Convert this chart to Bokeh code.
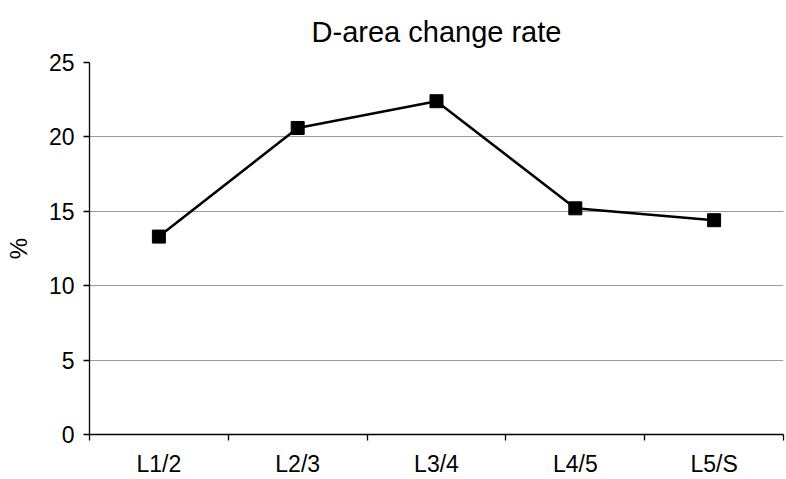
from bokeh.plotting import figure
from bokeh.models import Range1d, FixedTicker, ColumnDataSource
from bokeh.embed import file_html
from bokeh.resources import INLINE

categories = ["L1/2", "L2/3", "L3/4", "L4/5", "L5/S"]
values = [13.3, 20.6, 22.4, 15.2, 14.4]
y_ticks = [0, 5, 10, 15, 20, 25]
title_text = "D-area change rate"
y_label = "%"

xs = [i + 0.5 for i in range(len(categories))]
src = ColumnDataSource(data=dict(x=xs, y=values, cat=categories))

FONT = "Liberation Sans"

p = figure(width=786, height=479, output_backend="svg", toolbar_location=None,
           x_range=Range1d(0, len(categories)), y_range=Range1d(0, 25),
           min_border_left=89, min_border_right=3, min_border_top=62, min_border_bottom=42)

p.title.text = title_text
p.title.text_font = FONT
p.title.text_font_size = "29px"
p.title.text_font_style = "normal"
p.title.text_color = "black"
p.title.align = "center"
p.title.vertical_align = "top"
p.title.standoff = 26

p.outline_line_color = None
p.background_fill_color = "white"
p.border_fill_color = "white"

# x axis
p.xaxis.ticker = FixedTicker(ticks=xs, minor_ticks=list(range(len(categories) + 1)))
p.xaxis.major_label_overrides = {x: c for x, c in zip(xs, categories)}
p.xaxis.major_tick_out = 0
p.xaxis.major_tick_in = 0
p.xaxis.minor_tick_out = 6
p.xaxis.minor_tick_in = 0
p.xaxis.minor_tick_line_color = "black"
p.xaxis.minor_tick_line_width = 1.3
p.xaxis.major_label_standoff = 10
p.xaxis.major_label_text_font = FONT
p.xaxis.major_label_text_font_size = "23px"
p.xaxis.major_label_text_color = "black"
p.xaxis.axis_line_color = "black"
p.xaxis.axis_line_width = 1.3

# y axis
p.yaxis.ticker = FixedTicker(ticks=y_ticks, minor_ticks=[])
p.yaxis.major_tick_out = 6
p.yaxis.major_tick_in = 0
p.yaxis.major_tick_line_width = 1.3
p.yaxis.major_tick_line_color = "black"
p.yaxis.minor_tick_out = 0
p.yaxis.major_label_standoff = 9
p.yaxis.major_label_text_font = FONT
p.yaxis.major_label_text_font_size = "23px"
p.yaxis.major_label_text_color = "black"
p.yaxis.axis_line_color = "black"
p.yaxis.axis_line_width = 1.3
p.yaxis.axis_label = y_label
p.yaxis.axis_label_text_font = FONT
p.yaxis.axis_label_text_font_size = "24px"
p.yaxis.axis_label_text_font_style = "normal"
p.yaxis.axis_label_text_color = "black"
p.yaxis.axis_label_standoff = 14

p.xgrid.grid_line_color = None
p.ygrid.ticker = FixedTicker(ticks=y_ticks[1:])
p.ygrid.grid_line_color = "#999999"
p.ygrid.grid_line_width = 1.2

p.line("x", "y", source=src, line_color="black", line_width=2.5)
p.scatter("x", "y", source=src, marker="square", size=13, fill_color="black", line_color="black")

open("out.html", "w").write(file_html(p, INLINE))
